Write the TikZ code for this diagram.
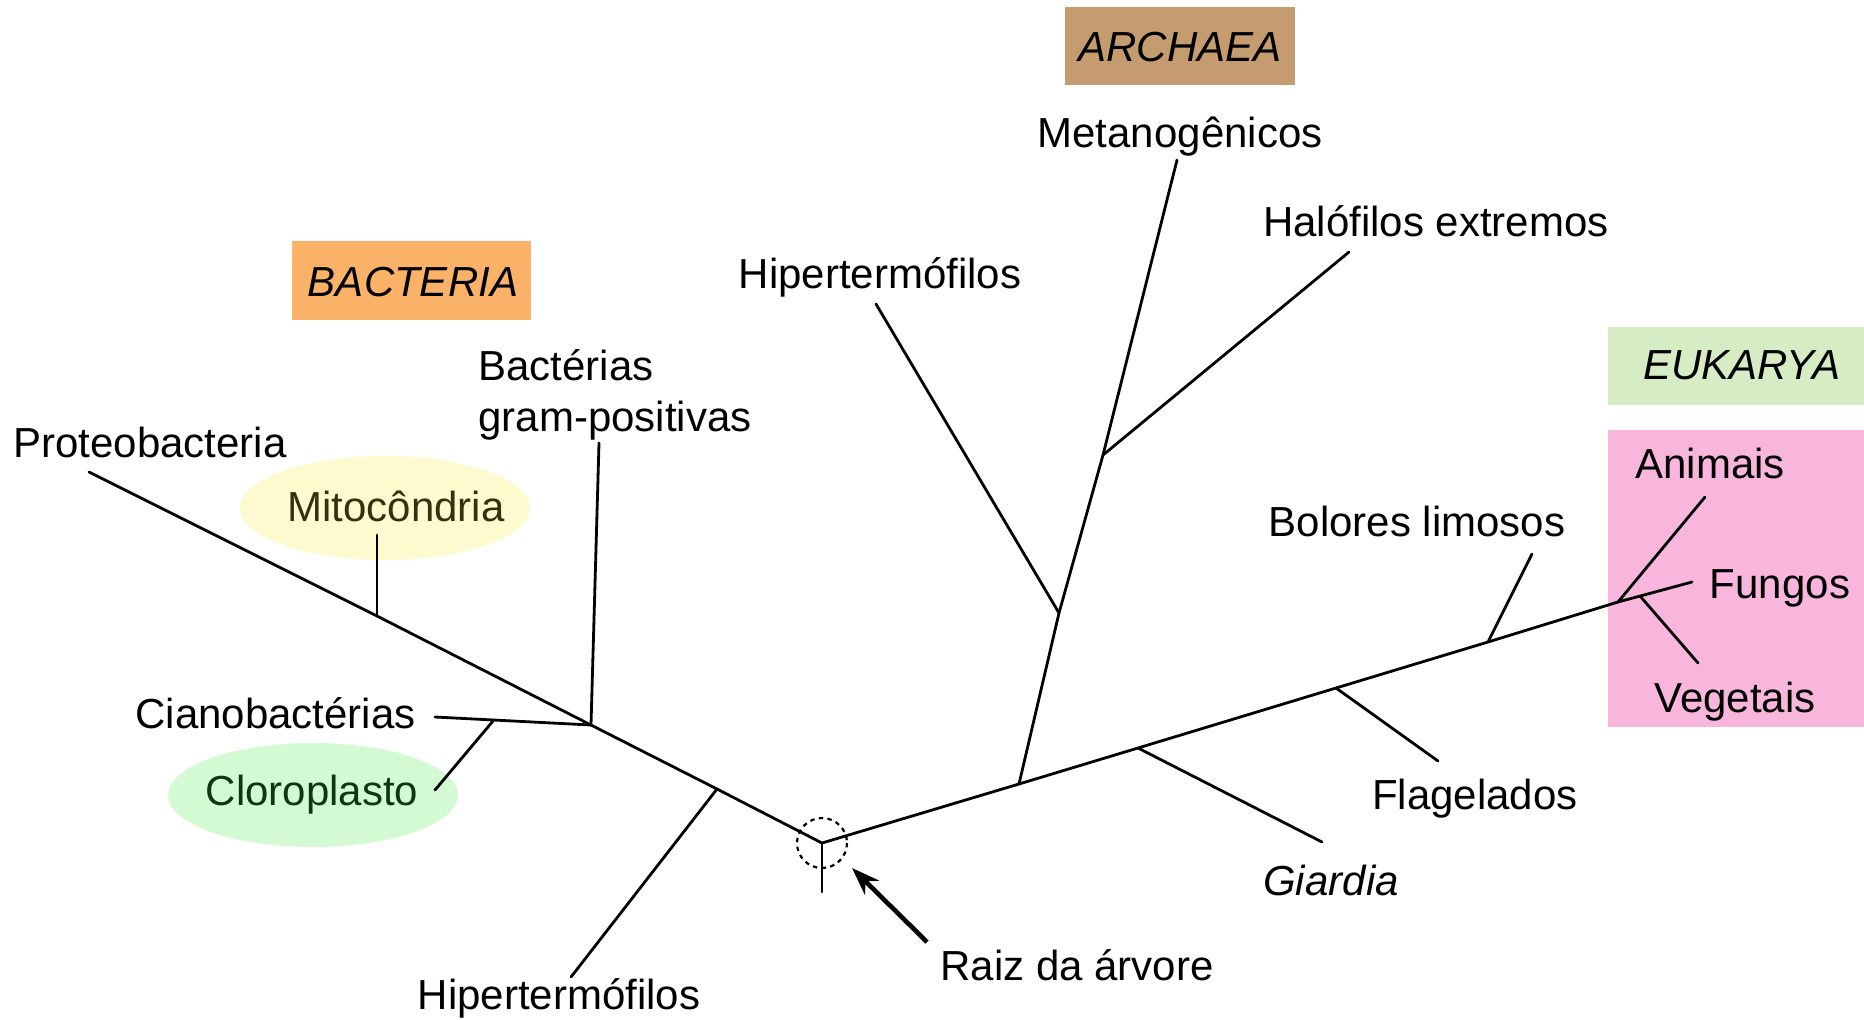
\documentclass[tikz,border=0pt]{standalone}
\usepackage{fontspec}
\setmainfont{Liberation Sans}
\usetikzlibrary{arrows.meta}
\definecolor{bactbox}{RGB}{250,178,104}
\definecolor{archbox}{RGB}{196,156,112}
\definecolor{eukbox}{RGB}{214,236,196}
\definecolor{pinkbox}{RGB}{248,182,220}
\definecolor{mitofill}{RGB}{252,250,206}
\definecolor{clorofill}{RGB}{212,250,212}
\definecolor{mitotext}{RGB}{50,50,15}
\definecolor{clorotext}{RGB}{15,55,15}
\begin{document}
\begin{tikzpicture}[x=0.5pt,y=-0.5pt,
  lbl/.style={inner sep=0pt,text height=15pt,text depth=0pt,font=\fontsize{21}{25.5}\selectfont},
  branch/.style={line width=1.4pt,line cap=round,line join=round},
  domainlbl/.style={inner sep=0pt,text height=15pt,text depth=0pt,font=\fontsize{21}{25.5}\selectfont\itshape}]
\useasboundingbox (0,0) rectangle (1864,1019);

% background boxes
\fill[bactbox] (292,241) rectangle (531,320);
\fill[archbox] (1065,7) rectangle (1295,85);
\fill[eukbox] (1608,327) rectangle (1864,405);
\fill[pinkbox] (1608,430) rectangle (1864,727);
\fill[mitofill] (385,508) ellipse [x radius=145, y radius=52];
\fill[clorofill] (313,795) ellipse [x radius=145, y radius=52];

% domain labels
\node[domainlbl] (bacteria) at (413,281) {BACTERIA};
\node[domainlbl] (archaea) at (1180,46) {ARCHAEA};
\node[domainlbl] (eukarya) at (1742,364) {EUKARYA};

% branch points
\coordinate (root) at (822,843);
\coordinate (b1) at (717,789);
\coordinate (b2) at (591,725);
\coordinate (b3) at (377,616);
\coordinate (bend) at (89,472);
\coordinate (hyp1) at (571,977);
\coordinate (gram) at (599,443);
\coordinate (cyano) at (435,717);
\coordinate (cl0) at (493,721);
\coordinate (clor) at (435,790);
\coordinate (mito) at (377,535);
\coordinate (stub) at (822,892);

\coordinate (a0) at (1019,784);
\coordinate (g0) at (1138,748);
\coordinate (f0) at (1336,688);
\coordinate (s0) at (1488,642);
\coordinate (e0) at (1618,602);
\coordinate (giar) at (1322,842);
\coordinate (flag) at (1438,761);
\coordinate (bol) at (1532,554);
\coordinate (anim) at (1705,497);
\coordinate (fung) at (1692,582);
\coordinate (v0) at (1640,596);
\coordinate (veg) at (1698,663);
\coordinate (a1) at (1059,613);
\coordinate (a2) at (1103,455);
\coordinate (met) at (1177,160);
\coordinate (hyp2) at (876,304);
\coordinate (hal) at (1349,252);

% tree
\draw[branch] (bend) -- (b3) -- (b2) -- (b1) -- (root) -- (a0) -- (g0) -- (f0) -- (s0) -- (e0);
\draw[branch] (b1) -- (hyp1);
\draw[branch] (b2) -- (gram);
\draw[branch] (b2) -- (cyano);
\draw[branch] (cl0) -- (clor);
\draw[branch] (b3) -- (mito);
\draw[branch] (root) -- (stub);
\draw[branch] (g0) -- (giar);
\draw[branch] (f0) -- (flag);
\draw[branch] (s0) -- (bol);
\draw[branch] (e0) -- (anim);
\draw[branch] (e0) -- (fung);
\draw[branch] (v0) -- (veg);
\draw[branch] (a0) -- (a1) -- (a2) -- (met);
\draw[branch] (a1) -- (hyp2);
\draw[branch] (a2) -- (hal);

% root marker
\draw[line width=1.1pt,dash pattern=on 2.2pt off 2.2pt] (root) circle [radius=25];
\node[lbl] (raiz) at (1077,965) {Raiz da árvore};
\coordinate (arrtail) at (927,942);
\coordinate (arrtip) at (852,868);
\draw[line width=2.3pt,-{Stealth[length=14pt,width=10pt]}] (arrtail) -- (arrtip);

% labels
\node[lbl] (proteo) at (150,442) {Proteobacteria};
\node[lbl,text=mitotext] (mitotxt) at (396,506) {Mitocôndria};
\node[lbl,anchor=east] (cianotxt) at (416,713) {Cianobactérias};
\node[lbl,text=clorotext] (clortxt) at (312,790) {Cloroplasto};
\node[inner sep=0pt,align=left,anchor=base west,font=\fontsize{21}{25.5}\selectfont] (gramtxt) at (478,431) {Bactérias\\gram-positivas};
\node[lbl] (hypbot) at (559,994) {Hipertermófilos};
\node[lbl] (hyptop) at (880,273) {Hipertermófilos};
\node[lbl] (metano) at (1180,132) {Metanogênicos};
\node[lbl] (halo) at (1436,221) {Halófilos extremos};
\node[lbl] (bolores) at (1417,521) {Bolores limosos};
\node[lbl] (flagel) at (1475,794) {Flagelados};
\node[lbl,font=\fontsize{21}{25.5}\selectfont\itshape] (giardia) at (1331,880) {Giardia};
\node[lbl] (animais) at (1710,463) {Animais};
\node[lbl] (fungos) at (1780,583) {Fungos};
\node[lbl] (vegetais) at (1735,697) {Vegetais};
\end{tikzpicture}
\end{document}
